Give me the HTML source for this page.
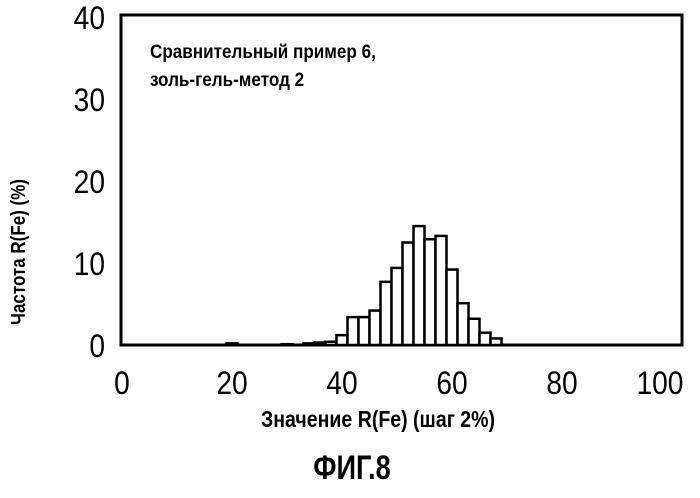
<!DOCTYPE html>
<html><head><meta charset="utf-8"><style>
html,body{margin:0;padding:0;background:#fff;}
svg text{font-family:"Liberation Sans",sans-serif;fill:#000;}
</style></head><body>
<svg id="chart" width="700" height="493" viewBox="0 0 700 493" xmlns="http://www.w3.org/2000/svg">
<rect x="121" y="15" width="561" height="330" fill="none" stroke="#000" stroke-width="3"/>
<text x="150" y="58" font-size="19" font-weight="bold" transform="translate(150,0) scale(0.9,1) translate(-150,0)">Сравнительный пример 6,</text>
<text x="150" y="86" font-size="19" font-weight="bold" transform="translate(150,0) scale(0.9,1) translate(-150,0)">золь-гель-метод 2</text>
<text x="0" y="0" font-size="20" font-weight="bold" text-anchor="middle" transform="translate(25,252) rotate(-90) scale(0.85,1)">Частота R(Fe) (%)</text>
<text x="378" y="427" font-size="23" font-weight="bold" text-anchor="middle" transform="translate(378,0) scale(0.85,1) translate(-378,0)">Значение R(Fe) (шаг 2%)</text>
<text x="352" y="479" font-size="34" font-weight="bold" text-anchor="middle" transform="translate(352,0) scale(0.8,1) translate(-352,0)">ФИГ.8</text>
<g id="bars"></g>
<g id="xticks"></g>
<g id="yticks"></g>
</svg>
<script>
const binCenters=[20,30,34,36,38,40,42,44,46,48,50,52,54,56,58,60,62,64,66,68];
const frequencies=[0.2,0.1,0.2,0.3,0.4,1.2,3.4,3.4,4.2,7.7,9.4,12.5,14.5,12.9,13.3,9.2,5.1,3.2,1.5,0.8];
const xTickLabels=[0,20,40,60,80,100];
const yTickLabels=[0,10,20,30,40];
const binWidth=2;
function xs(v){return 122+5.5*v;}
function ys(v){return 345-8.2*v;}
const ns="http://www.w3.org/2000/svg";
const gb=document.getElementById('bars');
binCenters.forEach((c,i)=>{
  const r=document.createElementNS(ns,'rect');
  const x0=xs(c-binWidth/2),x1=xs(c+binWidth/2);
  r.setAttribute('x',x0);r.setAttribute('width',x1-x0);
  r.setAttribute('y',ys(frequencies[i]));r.setAttribute('height',ys(0)-ys(frequencies[i]));
  r.setAttribute('fill','#fff');r.setAttribute('stroke','#000');r.setAttribute('stroke-width','2.5');
  
  
  gb.appendChild(r);
});
const gx=document.getElementById('xticks');
xTickLabels.forEach(v=>{
  const t=document.createElementNS(ns,'text');
  const x=xs(v)-(v===100?12:0);
  t.setAttribute('x',x);t.setAttribute('y',394);
  t.setAttribute('font-size','32');t.setAttribute('text-anchor','middle');
  t.setAttribute('transform','translate('+x+',0) scale(0.88,1) translate('+(-x)+',0)');
  t.textContent=v;
  
  
  gx.appendChild(t);
});
const gy=document.getElementById('yticks');
yTickLabels.forEach(v=>{
  const t=document.createElementNS(ns,'text');
  t.setAttribute('x',105);t.setAttribute('y',ys(v)+12);
  t.setAttribute('font-size','32');t.setAttribute('text-anchor','end');
  t.setAttribute('transform','translate(105,0) scale(0.88,1) translate(-105,0)');
  t.textContent=v;
  
  
  gy.appendChild(t);
});
</script>
</body></html>
